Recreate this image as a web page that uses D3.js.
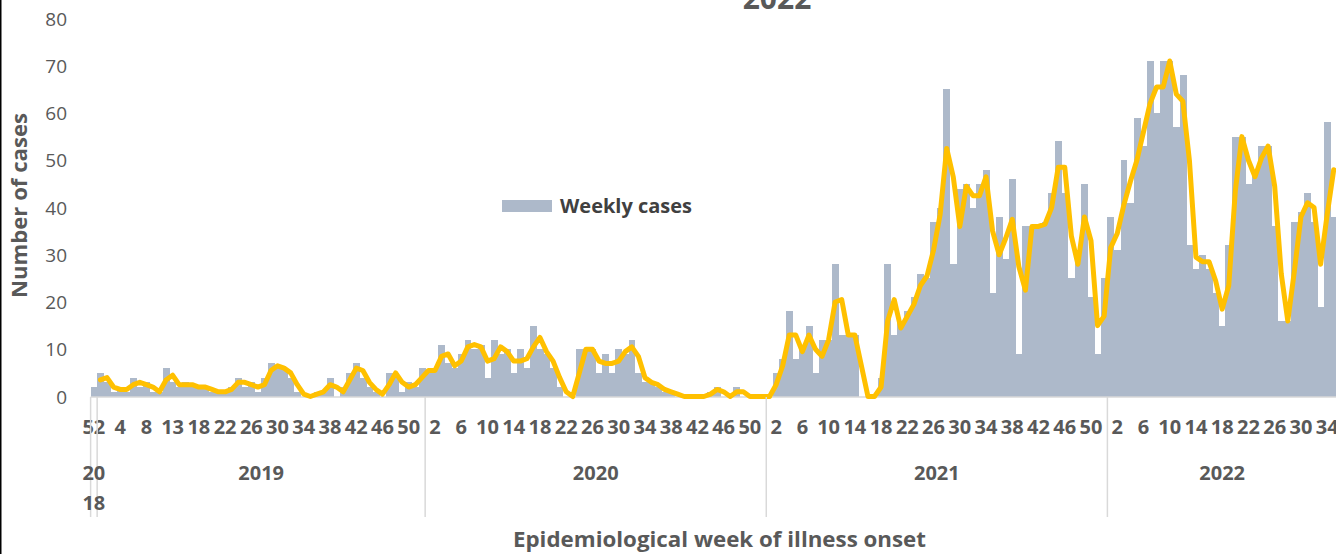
<!DOCTYPE html>
<html><head><meta charset="utf-8">
<script src="https://cdn.jsdelivr.net/npm/d3@7/dist/d3.min.js"></script>
<style>
html,body{margin:0;padding:0;background:#fff;overflow:hidden;}
svg{display:block;font-family:"Open Sans",sans-serif;}
</style></head><body>
<svg id="chart" width="1336" height="554"></svg>
<script>
// ---- data ----
const years = ["2018", "2019", "2020", "2021", "2022"];
const weeks2018 = [52];
const weeks2019 = [1,2,3,4,5,6,7,8,9,10,11,13,14,15,16,18,19,20,21,22,23,24,25,26,27,28,29,30,31,32,33,34,35,36,37,38,39,40,41,42,43,44,45,46,47,48,49,50,51,52];
const weeks2020 = [1,2,3,4,5,6,7,8,9,10,11,12,13,14,15,16,17,18,19,20,21,22,23,24,25,26,27,28,29,30,31,32,33,34,35,36,37,38,39,40,41,42,43,44,45,46,47,48,49,50,51,52];
const weeks2021 = [1,2,3,4,5,6,7,8,9,10,11,12,13,14,15,16,17,18,19,20,21,22,23,24,25,26,27,28,29,30,31,32,33,34,35,36,37,38,39,40,41,42,43,44,45,46,47,48,49,50,51,52];
const weeks2022 = [1,2,3,4,5,6,7,8,9,10,11,12,13,14,15,16,17,18,19,20,21,22,23,24,25,26,27,28,29,30,31,32,33,34,35];

const cases2018 = [2];
const cases2019 = [5,3,1,2,1,4,2,3,1,1, 6,3,2,3,2,2,2,1,1,1, 2,4,2,3,1,4,7,6,6,4, 1,0,0,1,1,4,0,2,5,7, 4,2,1,0,5,5,1,3,2,6];
const cases2020 = [5,6,11,7,6,9,12,10,11,4, 12,9,10,5,10,6,15,10,9,6, 2,0,0,10,10,10,5,9,5,10, 9,12,5,3,3,2,1,1,0,0, 0,0,0,1,2,0,0,2,0,0, 0,0];
const cases2021 = [0,5,8,18,8,11,15,5,12,12, 28,13,13,13,0,0,0,4,28,13, 16,18,21,26,25,37,40,65,28,44, 45,40,45,48,22,38,29,46,9,36, 36,36,37,43,54,43,25,31,45,21, 9,25];
const cases2022 = [38,31,50,41,59,53,71,60,71,71, 57,68,32,27,30,27,22,15,32,55, 55,45,48,53,53,36,16,16,37,39, 43,37,19,58,38];

// 2-week moving average line
const trend2018 = [null];
const trend2019 = [3.5,4,2,1.5,1.5,2.5,3,2.5,2,1, 3.5,4.5,2.5,2.5,2.5,2,2,1.5,1,1, 1.5,3,3,2.5,2,2.5,5.5,6.5,6,5, 2.5,0.5,0,0.5,1,2.5,2,1,3.5,6, 5.5,3,1.5,0.5,2.5,5,3,2,2.5,4];
const trend2020 = [5.5,5.5,8.5,9,6.5,7.5,10.5,11,10.5,7.5, 8,10.5,9.5,7.5,7.5,8,10.5,12.5,9.5,7.5, 4,1,0,5,10,10,7.5,7,7,7.5, 9.5,10.5,8.5,4,3,2.5,1.5,1,0.5,0, 0,0,0,0.5,1.5,1,0,1,1,0, 0,0];
const trend2021 = [0,2.5,6.5,13,13,9.5,13,10,8.5,12, 20,20.5,13,13,6.5,0,0,2,16,20.5, 14.5,17,19.5,23.5,25.5,31,38.5,52.5,46.5,36, 44.5,42.5,42.5,46.5,35,30,33.5,37.5,27.5,22.5, 36,36,36.5,40,48.5,48.5,34,28,38,33, 15,17];
const trend2022 = [31.5,34.5,40.5,45.5,50,56,62,65.5,65.5,71, 64,62.5,50,29.5,28.5,28.5,24.5,18.5,23.5,43.5, 55,50,46.5,50.5,53,44.5,26,16,26.5,38, 41,40,28,38.5,48];

const yTicks = [0,10,20,30,40,50,60,70,80];

// ---- build table ----
const groups = [
  {year: years[0], weeks: weeks2018, cases: cases2018, trend: trend2018},
  {year: years[1], weeks: weeks2019, cases: cases2019, trend: trend2019},
  {year: years[2], weeks: weeks2020, cases: cases2020, trend: trend2020},
  {year: years[3], weeks: weeks2021, cases: cases2021, trend: trend2021},
  {year: years[4], weeks: weeks2022, cases: cases2022, trend: trend2022}
];
const rows = [];
groups.forEach(g => g.weeks.forEach((w, k) => rows.push({i: rows.length, year: g.year, week: w, cases: g.cases[k], trend: g.trend[k]})));
const N = rows.length;

const svg = d3.select("#chart");
const plotLeft = 90.6, band = 6.56;
const x = d3.scaleBand().domain(d3.range(N)).range([plotLeft, plotLeft + N * band]).paddingInner(0).paddingOuter(0);
const y = d3.scaleLinear().domain([0, 80]).range([396.5, 18.5]);
const grey = "#595959";

// left frame line
svg.append("line").attr("x1", 0.75).attr("x2", 0.75).attr("y1", 0).attr("y2", 554)
  .attr("stroke", "#000").attr("stroke-width", 1.5);

// title (cut off at top in the reference)
svg.append("text").attr("x", 777).attr("y", 9).attr("text-anchor", "middle")
  .attr("font-size", 30).attr("font-weight", 700).attr("fill", grey).text("2022");

// bars
svg.append("g").selectAll("rect").data(rows).join("rect")
  .attr("x", d => x(d.i)).attr("width", x.bandwidth() + 0.4)
  .attr("y", d => y(d.cases)).attr("height", d => y(0) - y(d.cases))
  .attr("fill", "#ADB9CA").attr("shape-rendering", "crispEdges");

// axis line
svg.append("line").attr("x1", plotLeft).attr("x2", 1336).attr("y1", 397).attr("y2", 397)
  .attr("stroke", "#D9D9D9").attr("stroke-width", 1.5);

// moving average line
const line = d3.line().defined(d => d.trend != null)
  .x(d => x(d.i) + x.bandwidth() / 2).y(d => y(d.trend));
svg.append("path").datum(rows).attr("d", line).attr("fill", "none")
  .attr("stroke", "#FFC000").attr("stroke-width", 5)
  .attr("stroke-linejoin", "round").attr("stroke-linecap", "round");

// y axis ticks
const yAxis = d3.axisLeft(y).tickValues(yTicks).tickSize(0).tickPadding(0);
const gy = svg.append("g").attr("transform", "translate(67,0)").call(yAxis);
gy.select(".domain").remove();
gy.selectAll("text").attr("font-family", "Open Sans").attr("font-size", 19).attr("fill", grey).attr("dy", "0.35em");

// x tick labels (every 4th category)
const xl = svg.append("g");
xl.selectAll("text").data(rows.filter(d => d.i % 4 === 0)).join("text")
  .attr("x", d => x(d.i) + x.bandwidth() / 2).attr("y", 427).attr("dy", "0.35em")
  .attr("text-anchor", "middle").attr("font-size", 20).attr("font-weight", 700).attr("fill", grey)
  .text(d => d.week);

// group separators and year labels
let start = 0;
const bounds = [];
groups.forEach(g => { bounds.push({year: g.year, a: start, b: start + g.weeks.length}); start += g.weeks.length; });
const sepX = [plotLeft].concat(bounds.map(b => x(b.b - 1) + x.bandwidth()));
svg.append("g").selectAll("line").data(sepX).join("line")
  .attr("x1", d => d).attr("x2", d => d).attr("y1", 397).attr("y2", 517)
  .attr("stroke", "#D9D9D9").attr("stroke-width", 1.5);
const yl = svg.append("g");
bounds.forEach(b => {
  const cx = (x(b.a) + x(b.b - 1) + x.bandwidth()) / 2;
  if (b.year === "2018") {
    yl.append("text").attr("x", cx).attr("y", 473).attr("dy", "0.35em").attr("text-anchor", "middle")
      .attr("font-size", 20).attr("font-weight", 700).attr("fill", grey).text(b.year.slice(0, 2));
    yl.append("text").attr("x", cx).attr("y", 503).attr("dy", "0.35em").attr("text-anchor", "middle")
      .attr("font-size", 20).attr("font-weight", 700).attr("fill", grey).text(b.year.slice(2));
  } else {
    yl.append("text").attr("x", cx).attr("y", 473).attr("dy", "0.35em").attr("text-anchor", "middle")
      .attr("font-size", 20).attr("font-weight", 700).attr("fill", grey).text(b.year);
  }
});

// axis titles
svg.append("text").attr("x", 719.5).attr("y", 540).attr("dy", "0.35em").attr("text-anchor", "middle")
  .attr("font-size", 21).attr("font-weight", 700).attr("fill", grey)
  .attr("textLength", 413).attr("lengthAdjust", "spacingAndGlyphs")
  .text("Epidemiological week of illness onset");
svg.append("text").attr("transform", "translate(20,205.5) rotate(-90)").attr("dy", "0.35em")
  .attr("text-anchor", "middle").attr("font-size", 21).attr("font-weight", 700).attr("fill", grey)
  .attr("textLength", 185).attr("lengthAdjust", "spacingAndGlyphs")
  .text("Number of cases");

// legend
svg.append("rect").attr("x", 502).attr("y", 200).attr("width", 50).attr("height", 12).attr("fill", "#ADB9CA");
svg.append("text").attr("x", 560).attr("y", 206).attr("dy", "0.35em").attr("font-size", 20)
  .attr("font-weight", 700).attr("fill", "#404040")
  .attr("textLength", 132).attr("lengthAdjust", "spacingAndGlyphs").text("Weekly cases");
</script>
</body></html>
